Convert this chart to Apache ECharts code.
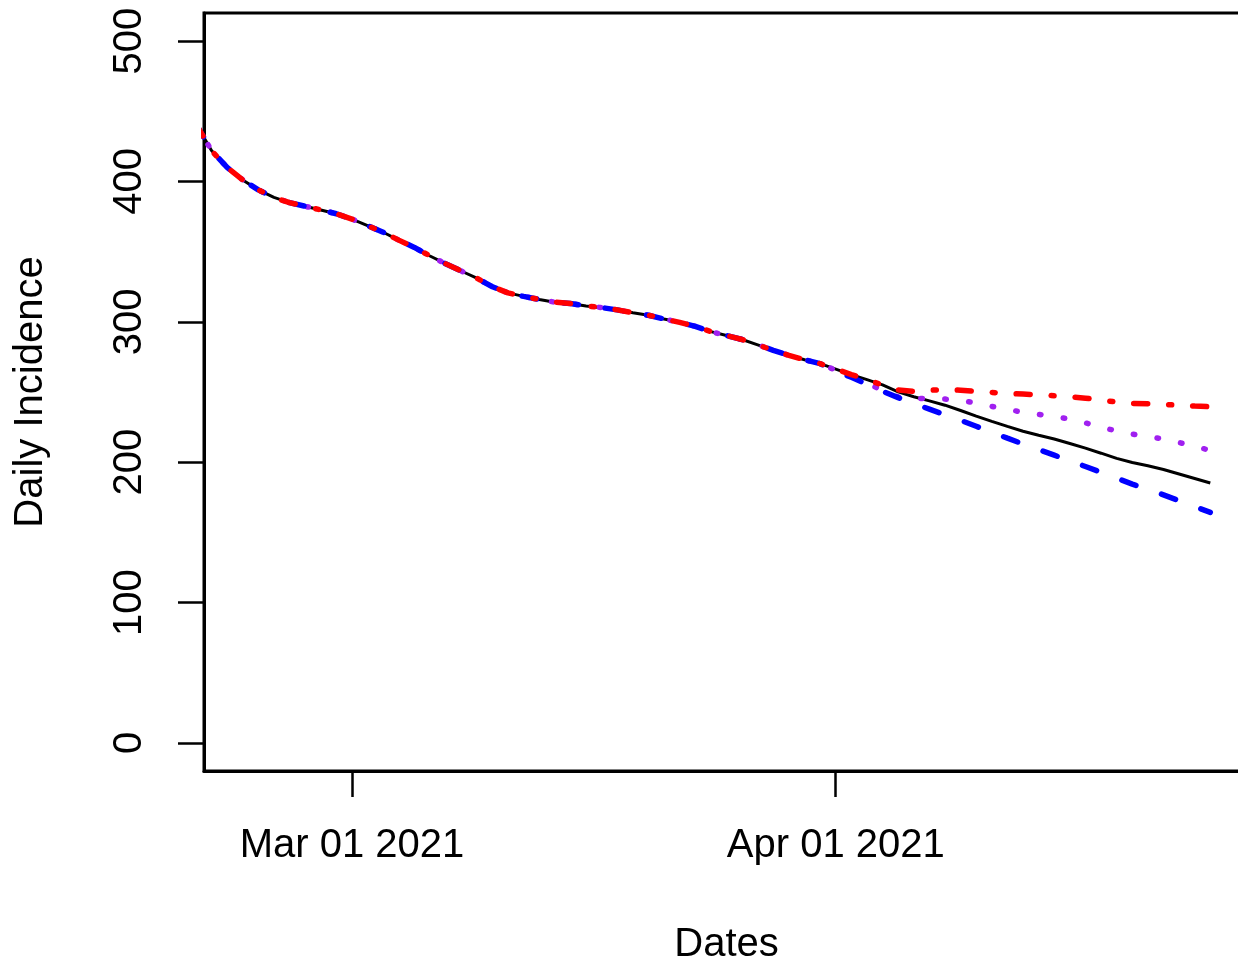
<!DOCTYPE html>
<html><head><meta charset="utf-8">
<script src="https://cdn.jsdelivr.net/npm/echarts@6/dist/echarts.min.js"></script>
<style>html,body{margin:0;padding:0;background:#fff}#c{width:1238px;height:962px}</style>
</head><body><div id="c"></div>
<script>
const dates = [
 '2021-02-19','2021-02-20','2021-02-21','2021-02-22','2021-02-23','2021-02-24','2021-02-25','2021-02-26','2021-02-27','2021-02-28',
 '2021-03-01','2021-03-02','2021-03-03','2021-03-04','2021-03-05','2021-03-06','2021-03-07','2021-03-08','2021-03-09','2021-03-10',
 '2021-03-11','2021-03-12','2021-03-13','2021-03-14','2021-03-15','2021-03-16','2021-03-17','2021-03-18','2021-03-19','2021-03-20',
 '2021-03-21','2021-03-22','2021-03-23','2021-03-24','2021-03-25','2021-03-26','2021-03-27','2021-03-28','2021-03-29','2021-03-30','2021-03-31',
 '2021-04-01','2021-04-02','2021-04-03','2021-04-04','2021-04-05','2021-04-06','2021-04-07','2021-04-08','2021-04-09','2021-04-10',
 '2021-04-11','2021-04-12','2021-04-13','2021-04-14','2021-04-15','2021-04-16','2021-04-17','2021-04-18','2021-04-19','2021-04-20',
 '2021-04-21','2021-04-22','2021-04-23','2021-04-24','2021-04-25'
];
const observed = [
 441,422,410.0,401.1,394.0,388.6,384.9,382.3,379.7,377.0,
 373.2,368.5,363.8,358.2,353.0,346.9,341.4,336.2,331.1,325.0,
 320.6,318.1,315.9,314.0,313.0,311.3,310.1,308.5,306.4,304.7,
 302.0,299.6,296.8,293.0,290.2,287.4,283.6,279.7,276.1,273.0,270.2,
 266.3,262.4,258.8,255.1,250.1,246.6,243.7,240.6,236.8,232.8,
 229.1,225.5,222.0,219.2,216.5,213.3,210.0,206.4,202.7,199.8,
 197.4,194.8,191.6,188.4,185.2
];
// fitted values shared by the three models up to 2021-03-30 (same as observed curve)
const sharedFitCount = 41;
// model curves from 2021-03-31 to 2021-04-25
const redTail = [266.3,262.4,258.8,255.0,251.5,250.5,251.2,251.8,251.3,250.5,249.7,249.0,248.5,248.0,247.3,246.6,245.6,244.3,242.8,241.8,241.7,241.2,240.6,240.0,239.5];
const purpleTail = [265.5,261.0,256.5,251.0,246.5,245.6,245.2,245.0,244.0,242.2,239.7,237.6,235.6,234.1,232.5,230.7,228.0,225.0,222.2,220.0,218.2,216.6,214.0,211.3,208.4];
const blueTail = [265.0,260.5,255.5,250.5,246.0,241.8,237.8,233.8,229.8,225.6,221.3,217.1,213.0,209.0,205.0,201.0,196.9,192.8,188.6,184.4,180.6,176.7,172.6,168.4,164.3];
const yTicks = [0,100,200,300,400,500];
const xTickDates = ['2021-03-01','2021-04-01'];
const xTickLabels = ['Mar 01 2021','Apr 01 2021'];

const DAY = 86400000;
const ref = Date.parse('2021-03-01');
const dayOf = s => Math.round((Date.parse(s) - ref) / DAY);
const xs = dates.map(dayOf);
const pair = arr => arr.map((v, i) => [xs[i], v]);
const build = tail => observed.slice(0, sharedFitCount).concat(tail);
const xTickVals = xTickDates.map(dayOf);

const FONT = 'Liberation Sans, Arial, sans-serif';
const chart = echarts.init(document.getElementById('c'), null, {renderer: 'canvas'});
chart.setOption({
  animation: false,
  backgroundColor: '#fff',
  grid: {left: 204, top: 13, right: -11, bottom: 191, show: true, borderColor: '#000', borderWidth: 3, containLabel: false, outerBoundsMode: 'none'},
  xAxis: {
    type: 'value', min: -9.48, max: 57.48,
    splitLine: {show: false},
    axisLine: {show: true, onZero: false, lineStyle: {color: '#000', width: 3}},
    axisTick: {show: true, length: 26, inside: false, customValues: xTickVals, lineStyle: {color: '#000', width: 2.5}},
    axisLabel: {show: true, customValues: xTickVals, margin: 55, fontSize: 40, fontFamily: FONT, color: '#000',
      formatter: v => xTickLabels[xTickVals.indexOf(Math.round(v))] || ''},
    name: 'Dates', nameLocation: 'middle', nameGap: 154,
    nameTextStyle: {fontSize: 40, fontFamily: FONT, color: '#000'}
  },
  yAxis: {
    type: 'value', min: -20, max: 520,
    splitLine: {show: false},
    axisLine: {show: true, onZero: false, lineStyle: {color: '#000', width: 3}},
    axisTick: {show: true, length: 26, inside: false, customValues: yTicks, lineStyle: {color: '#000', width: 2.5}},
    axisLabel: {show: true, customValues: yTicks, rotate: 90, margin: 54, fontSize: 40, fontFamily: FONT, color: '#000'},
    name: 'Daily Incidence', nameLocation: 'middle', nameGap: 153,
    nameTextStyle: {fontSize: 40, fontFamily: FONT, color: '#000'}
  },
  series: [
    {name: 'Observed', type: 'line', data: pair(observed), showSymbol: false, symbol: 'none', clip: true,
      lineStyle: {color: '#000', width: 3}},
    {name: 'Model C', type: 'line', data: pair(build(purpleTail)), showSymbol: false, symbol: 'none', clip: true,
      lineStyle: {color: '#A020F0', width: 5.5, type: [1.5, 22.5], cap: 'round'}},
    {name: 'Model B', type: 'line', data: pair(build(blueTail)), showSymbol: false, symbol: 'none', clip: true,
      lineStyle: {color: '#0000FF', width: 5.5, type: [15, 27], cap: 'round'}},
    {name: 'Model A', type: 'line', data: pair(build(redTail)), showSymbol: false, symbol: 'none', clip: true,
      lineStyle: {color: '#FF0000', width: 5.5, type: [14, 21, 3, 21], cap: 'round'}}
  ]
});
</script></body></html>
